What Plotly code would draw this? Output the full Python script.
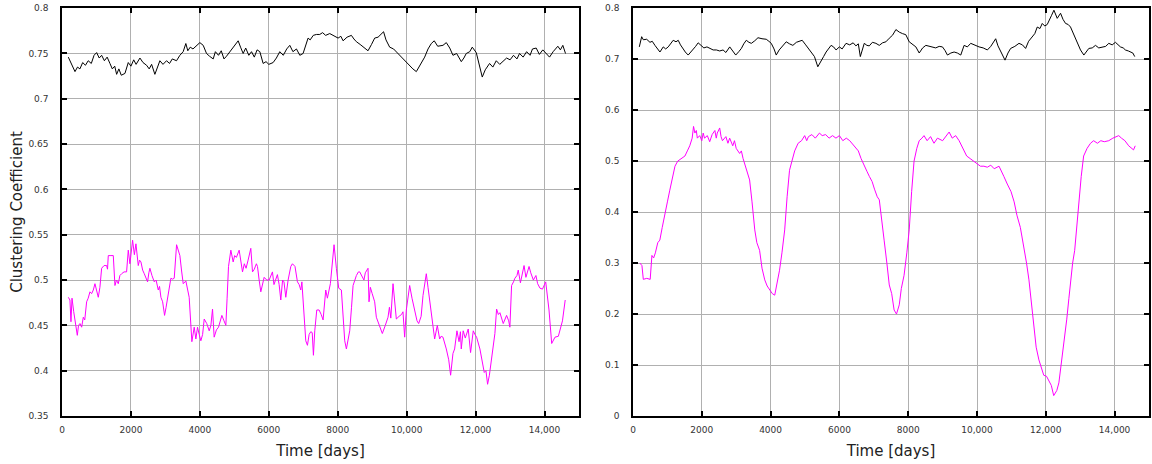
import plotly.graph_objects as go

# ---------------- data ----------------
left_black_x = [183,280,377,450,520,600,680,760,850,930,1005,1080,1150,1230,1310,1391,1460,1530,1585,1650,1720,1826,1923,2000,2080,2150,2261,2350,2454,2530,2600,2695,2770,2840,2930,3033,3120,3200,3323,3420,3516,3593,3650,3720,3800,3903,4000,4097,4193,4280,4387,4450,4540,4620,4700,4773,4850,4918,5000,5111,5180,5256,5330,5420,5498,5580,5660,5740,5836,5920,6000,6126,6220,6319,6420,6520,6609,6700,6802,6900,6995,7070,7140,7200,7290,7382,7478,7560,7650,7768,7880,8010,8090,8155,8270,8396,8470,8541,8650,8760,8879,8980,9072,9170,9266,9330,9400,9507,9620,9749,9870,9990,10080,10180,10280,10400,10522,10620,10715,10800,10900,11053,11150,11250,11343,11450,11585,11660,11729,11830,11903,12019,12100,12193,12280,12406,12500,12600,12700,12792,12900,13000,13100,13200,13275,13380,13480,13580,13650,13758,13850,13950,14050,14145,14250,14386,14460,14531,14609]
left_black_y = [0.746,0.738,0.730,0.735,0.733,0.740,0.737,0.742,0.739,0.748,0.751,0.745,0.748,0.742,0.746,0.739,0.733,0.736,0.727,0.733,0.726,0.728,0.740,0.736,0.743,0.738,0.745,0.740,0.737,0.733,0.738,0.727,0.735,0.742,0.738,0.742,0.739,0.744,0.742,0.748,0.752,0.761,0.753,0.757,0.755,0.759,0.762,0.759,0.750,0.747,0.744,0.752,0.748,0.753,0.744,0.747,0.751,0.755,0.758,0.764,0.757,0.750,0.756,0.748,0.752,0.746,0.754,0.752,0.739,0.741,0.738,0.740,0.745,0.752,0.748,0.755,0.759,0.752,0.755,0.748,0.750,0.758,0.767,0.765,0.770,0.771,0.771,0.773,0.770,0.772,0.770,0.767,0.769,0.764,0.768,0.770,0.766,0.763,0.760,0.757,0.753,0.760,0.767,0.768,0.771,0.774,0.765,0.757,0.755,0.750,0.745,0.740,0.737,0.733,0.730,0.738,0.746,0.755,0.761,0.764,0.758,0.759,0.762,0.756,0.748,0.750,0.741,0.745,0.750,0.752,0.757,0.751,0.738,0.724,0.732,0.739,0.735,0.742,0.738,0.741,0.745,0.743,0.748,0.744,0.750,0.746,0.752,0.748,0.755,0.756,0.749,0.754,0.750,0.746,0.752,0.758,0.754,0.759,0.750]

left_mag_x = [183,230,260,290,340,444,480,522,570,618,660,715,760,811,860,908,956,1005,1053,1100,1150,1220,1295,1320,1343,1420,1488,1536,1580,1633,1680,1730,1800,1874,1923,1971,2048,2100,2145,2213,2250,2290,2340,2387,2430,2483,2520,2551,2610,2677,2730,2793,2830,2870,2920,2976,3020,3063,3110,3159,3210,3256,3324,3370,3420,3470,3517,3594,3640,3690,3768,3800,3836,3884,3932,3980,4029,4080,4126,4200,4271,4320,4367,4415,4480,4541,4600,4638,4700,4754,4790,4831,4899,4966,5010,5060,5140,5190,5237,5290,5340,5400,5478,5527,5580,5640,5672,5720,5768,5865,5940,6010,6060,6106,6150,6200,6250,6300,6348,6400,6440,6493,6560,6638,6686,6760,6831,6880,6928,6960,7005,7073,7121,7170,7218,7260,7295,7334,7392,7459,7520,7575,7652,7700,7787,7845,7893,7961,8029,8106,8155,8203,8251,8300,8348,8400,8445,8541,8600,8638,8700,8760,8800,8879,8908,8946,9000,9072,9120,9217,9294,9380,9459,9500,9540,9604,9700,9780,9850,9893,9942,9990,10087,10155,10251,10300,10348,10420,10474,10570,10619,10696,10760,10812,10889,10957,11000,11053,11150,11220,11275,11343,11391,11459,11520,11560,11584,11640,11700,11786,11854,11932,11980,12029,12125,12200,12251,12300,12348,12400,12483,12560,12609,12660,12705,12802,12899,12960,12995,13044,13100,13140,13200,13237,13300,13406,13460,13551,13600,13676,13750,13800,13869,13940,14034,14080,14130,14208,14304,14401,14450,14520,14600]
left_mag_y = [0.481,0.478,0.454,0.480,0.465,0.439,0.450,0.452,0.448,0.459,0.456,0.476,0.480,0.487,0.485,0.489,0.496,0.488,0.481,0.492,0.513,0.516,0.516,0.512,0.527,0.527,0.527,0.494,0.500,0.496,0.505,0.507,0.509,0.509,0.533,0.518,0.544,0.528,0.540,0.516,0.522,0.520,0.511,0.507,0.503,0.498,0.508,0.513,0.505,0.498,0.500,0.489,0.493,0.481,0.476,0.461,0.470,0.481,0.494,0.502,0.501,0.502,0.539,0.534,0.527,0.510,0.496,0.499,0.490,0.481,0.432,0.440,0.448,0.435,0.448,0.440,0.433,0.440,0.457,0.452,0.444,0.450,0.468,0.437,0.445,0.448,0.455,0.461,0.455,0.450,0.480,0.515,0.533,0.520,0.527,0.525,0.533,0.520,0.509,0.518,0.513,0.522,0.535,0.509,0.512,0.518,0.515,0.500,0.487,0.503,0.500,0.500,0.505,0.509,0.495,0.500,0.506,0.495,0.478,0.500,0.498,0.481,0.500,0.515,0.518,0.515,0.498,0.495,0.489,0.498,0.474,0.433,0.428,0.440,0.443,0.442,0.417,0.444,0.467,0.467,0.462,0.456,0.489,0.480,0.496,0.518,0.539,0.513,0.491,0.489,0.456,0.433,0.424,0.435,0.444,0.470,0.494,0.505,0.509,0.509,0.504,0.500,0.508,0.513,0.476,0.492,0.485,0.476,0.459,0.448,0.441,0.450,0.459,0.470,0.458,0.496,0.457,0.460,0.462,0.465,0.437,0.467,0.494,0.480,0.463,0.455,0.452,0.460,0.483,0.507,0.492,0.467,0.450,0.435,0.450,0.435,0.438,0.437,0.424,0.412,0.395,0.419,0.424,0.444,0.432,0.443,0.424,0.444,0.436,0.446,0.420,0.444,0.440,0.437,0.424,0.410,0.398,0.400,0.385,0.395,0.422,0.441,0.468,0.462,0.464,0.452,0.461,0.455,0.448,0.494,0.498,0.502,0.505,0.511,0.497,0.516,0.503,0.515,0.508,0.500,0.505,0.496,0.491,0.490,0.498,0.485,0.467,0.430,0.437,0.438,0.445,0.455,0.478]

right_black_x = [183,252,300,397,493,560,638,700,783,879,950,1024,1100,1169,1250,1314,1380,1440,1520,1604,1680,1749,1820,1894,1990,2060,2150,2232,2330,2425,2520,2618,2700,2812,2900,2986,3080,3150,3220,3294,3370,3440,3540,3633,3750,3874,3950,4019,4100,4164,4250,4330,4454,4550,4647,4750,4850,4918,5020,5130,5200,5275,5372,5469,5540,5614,5690,5758,5830,5903,6000,6080,6193,6300,6400,6480,6550,6608,6723,6800,6868,6960,7062,7159,7255,7352,7450,7546,7643,7740,7836,7930,8030,8120,8223,8320,8420,8513,8610,8707,8800,8900,8996,9070,9141,9240,9335,9430,9528,9625,9720,9818,9940,10060,10180,10302,10400,10495,10543,10610,10688,10750,10814,10900,10978,11100,11220,11320,11413,11500,11607,11680,11752,11830,11897,11970,12042,12100,12168,12236,12290,12332,12429,12500,12574,12650,12719,12800,12864,12940,13009,13106,13180,13251,13350,13444,13540,13637,13740,13831,13930,14024,14100,14169,14250,14314,14400,14459,14530,14585]
right_black_y = [0.724,0.744,0.738,0.739,0.733,0.735,0.727,0.722,0.714,0.724,0.720,0.724,0.730,0.737,0.734,0.737,0.728,0.721,0.714,0.708,0.714,0.718,0.725,0.732,0.726,0.722,0.724,0.721,0.718,0.718,0.716,0.718,0.713,0.724,0.716,0.708,0.715,0.721,0.730,0.737,0.733,0.731,0.736,0.742,0.740,0.739,0.735,0.731,0.720,0.708,0.718,0.725,0.734,0.730,0.727,0.733,0.735,0.737,0.728,0.718,0.712,0.705,0.685,0.698,0.705,0.714,0.720,0.727,0.724,0.718,0.724,0.720,0.731,0.728,0.732,0.726,0.730,0.705,0.731,0.727,0.726,0.733,0.731,0.727,0.732,0.734,0.741,0.747,0.758,0.753,0.750,0.748,0.734,0.730,0.724,0.712,0.722,0.727,0.725,0.724,0.722,0.725,0.724,0.717,0.708,0.712,0.714,0.712,0.708,0.727,0.724,0.731,0.727,0.724,0.722,0.718,0.725,0.734,0.740,0.726,0.714,0.706,0.698,0.712,0.721,0.725,0.731,0.728,0.721,0.735,0.744,0.750,0.763,0.760,0.770,0.765,0.768,0.778,0.786,0.796,0.785,0.780,0.790,0.778,0.770,0.768,0.763,0.750,0.740,0.728,0.718,0.708,0.715,0.721,0.722,0.727,0.722,0.724,0.725,0.731,0.728,0.733,0.728,0.724,0.722,0.718,0.716,0.714,0.712,0.705]

right_mag_x = [200,260,300,400,500,550,600,650,720,780,850,930,1000,1070,1150,1220,1300,1400,1510,1580,1650,1720,1760,1800,1840,1870,1940,2000,2040,2080,2160,2230,2300,2380,2420,2450,2520,2560,2600,2700,2760,2810,2900,2950,3000,3100,3150,3200,3300,3390,3460,3540,3600,3680,3750,3830,3900,3970,4050,4120,4190,4260,4330,4410,4480,4550,4620,4700,4800,4900,4990,5050,5100,5200,5300,5420,5500,5600,5700,5800,5900,6000,6100,6200,6300,6430,6550,6630,6720,6800,6870,6950,7020,7100,7160,7230,7300,7380,7450,7520,7590,7660,7740,7800,7880,7960,8030,8100,8170,8250,8320,8400,8460,8550,8650,8750,8850,9000,9100,9190,9280,9380,9480,9550,9620,9700,9800,9910,10000,10100,10200,10300,10400,10500,10640,10700,10780,10880,10990,11080,11160,11260,11360,11440,11510,11580,11650,11720,11800,11870,11940,12020,12090,12160,12230,12320,12380,12430,12520,12610,12670,12720,12780,12840,12900,12960,13030,13100,13200,13300,13390,13500,13600,13700,13830,13950,14050,14120,14200,14300,14410,14480,14550,14600]
right_mag_y = [0.300,0.295,0.268,0.270,0.268,0.315,0.310,0.320,0.340,0.345,0.370,0.394,0.420,0.443,0.470,0.490,0.500,0.505,0.510,0.520,0.530,0.545,0.568,0.555,0.560,0.545,0.550,0.540,0.555,0.545,0.550,0.538,0.552,0.560,0.545,0.555,0.565,0.548,0.540,0.548,0.535,0.545,0.530,0.540,0.525,0.515,0.520,0.505,0.485,0.463,0.420,0.365,0.340,0.325,0.290,0.267,0.255,0.247,0.240,0.237,0.260,0.286,0.320,0.365,0.430,0.482,0.500,0.520,0.535,0.540,0.550,0.540,0.548,0.552,0.545,0.555,0.550,0.552,0.545,0.550,0.545,0.550,0.540,0.545,0.540,0.530,0.520,0.505,0.490,0.480,0.470,0.460,0.445,0.430,0.424,0.380,0.345,0.300,0.257,0.240,0.208,0.200,0.218,0.250,0.276,0.320,0.365,0.440,0.500,0.525,0.540,0.545,0.550,0.540,0.548,0.535,0.545,0.540,0.550,0.557,0.545,0.550,0.540,0.530,0.520,0.510,0.505,0.500,0.495,0.490,0.490,0.488,0.492,0.485,0.490,0.480,0.470,0.455,0.440,0.420,0.394,0.370,0.335,0.300,0.267,0.220,0.169,0.135,0.110,0.095,0.080,0.078,0.070,0.060,0.040,0.050,0.065,0.090,0.140,0.190,0.230,0.267,0.300,0.325,0.370,0.424,0.470,0.510,0.525,0.535,0.540,0.535,0.540,0.538,0.540,0.545,0.548,0.550,0.545,0.540,0.530,0.525,0.522,0.530]

x_tickvals = [0, 2000, 4000, 6000, 8000, 10000, 12000, 14000]
x_ticktext = ["0", "2000", "4000", "6000", "8000", "10,000", "12,000", "14,000"]
left_y_tickvals = [0.35, 0.4, 0.45, 0.5, 0.55, 0.6, 0.65, 0.7, 0.75, 0.8]
left_y_ticktext = ["0.35", "0.4", "0.45", "0.5", "0.55", "0.6", "0.65", "0.7", "0.75", "0.8"]
right_y_tickvals = [0, 0.1, 0.2, 0.3, 0.4, 0.5, 0.6, 0.7, 0.8]
right_y_ticktext = ["0", "0.1", "0.2", "0.3", "0.4", "0.5", "0.6", "0.7", "0.8"]

# ---------------- figure ----------------
W, H = 1152, 464
ML, MR, MT, MB = 62, 3, 8, 48
PW = W - ML - MR

fig = go.Figure()
fig.add_trace(go.Scatter(x=left_black_x, y=left_black_y, mode="lines",
                         line=dict(color="black", width=1), xaxis="x", yaxis="y", showlegend=False))
fig.add_trace(go.Scatter(x=left_mag_x, y=left_mag_y, mode="lines",
                         line=dict(color="#ff00ff", width=1), xaxis="x", yaxis="y", showlegend=False))
fig.add_trace(go.Scatter(x=right_black_x, y=right_black_y, mode="lines",
                         line=dict(color="black", width=1), xaxis="x2", yaxis="y2", showlegend=False))
fig.add_trace(go.Scatter(x=right_mag_x, y=right_mag_y, mode="lines",
                         line=dict(color="#ff00ff", width=1), xaxis="x2", yaxis="y2", showlegend=False))

font_family = "DejaVu Sans"
tickfont = dict(family=font_family, size=9, color="#333333")
titlefont = dict(family=font_family, size=15, color="#222222")

common_axis = dict(showline=True, linecolor="black", linewidth=1.5, mirror="ticks",
                   ticks="inside", ticklen=5, tickwidth=1.5, tickcolor="black",
                   showgrid=True, gridcolor="#b0b0b0", gridwidth=1, zeroline=False,
                   tickfont=tickfont, automargin=False, ticklabeloverflow="allow")

fig.update_layout(
    width=W, height=H,
    margin=dict(l=ML, r=MR, t=MT, b=MB),
    paper_bgcolor="white", plot_bgcolor="white",
    xaxis=dict(domain=[0, (579 - ML) / PW], range=[0, 15000], anchor="y",
               tickvals=x_tickvals, ticktext=x_ticktext, ticklabelstandoff=4,
               title=dict(text="Time [days]", font=titlefont, standoff=12), **common_axis),
    yaxis=dict(domain=[0, 1], range=[0.35, 0.8002], anchor="x",
               tickvals=left_y_tickvals, ticktext=left_y_ticktext, ticklabelstandoff=10,
               title=dict(text="Clustering Coefficient", font=titlefont, standoff=2), **common_axis),
    xaxis2=dict(domain=[(633 - ML) / PW, 1], range=[0, 15000], anchor="y2",
                tickvals=x_tickvals, ticktext=x_ticktext, ticklabelstandoff=4,
                title=dict(text="Time [days]", font=titlefont, standoff=12), **common_axis),
    yaxis2=dict(domain=[0, 1], range=[0, 0.8003], anchor="x2",
                tickvals=right_y_tickvals, ticktext=right_y_ticktext, ticklabelstandoff=10,
                **common_axis),
)

fig.write_html("out.html", config={"displayModeBar": False},
               post_script="document.body.style.margin='0px';document.body.style.overflow='hidden';")
